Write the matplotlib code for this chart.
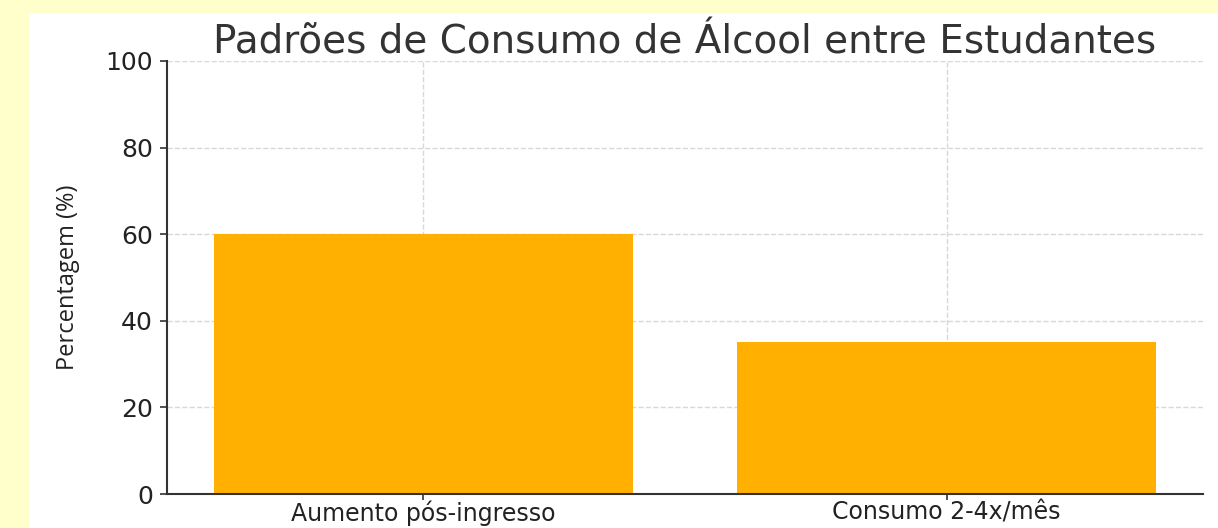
import matplotlib
matplotlib.use("Agg")
import matplotlib.pyplot as plt
from matplotlib.patches import Rectangle

categories = ["Aumento pós-ingresso", "Consumo 2-4x/mês"]
values = [60, 35]
yticks = [0, 20, 40, 60, 80, 100]

plt.rcParams["font.family"] = ["DejaVu Sans"]

W, H = 1218, 528
fig = plt.figure(figsize=(W / 100, H / 100), dpi=100)
fig.patch.set_facecolor("#FFFFCC")
fig.add_artist(Rectangle((29 / W, 0), 1 - 29 / W, 1 - 13 / H,
                         transform=fig.transFigure, facecolor="white",
                         edgecolor="none", zorder=0))

ax = fig.add_axes([167 / W, 1 - 494 / H, (1203 - 167) / W, (494 - 61) / H])
ax.set_facecolor("white")
ax.bar(categories, values, color="#FFB000", width=0.8, zorder=2)
ax.set_ylim(0, 100)
ax.set_yticks(yticks)
ax.grid(True, linestyle="--", color="#d8d8d8", linewidth=1.0, zorder=0)
ax.set_axisbelow(True)
for s in ["top", "right"]:
    ax.spines[s].set_visible(False)
for s in ["left", "bottom"]:
    ax.spines[s].set_color("#333333")
    ax.spines[s].set_linewidth(1.5)
ax.tick_params(axis="both", colors="#333333", length=5, width=1.2)
ax.tick_params(axis="y", labelsize=18, pad=5)
ax.tick_params(axis="x", labelsize=17, pad=1, length=4)
for lbl in ax.get_xticklabels() + ax.get_yticklabels():
    lbl.set_color("#222222")
ax.set_ylabel("Percentagem (%)", family="Open Sans", fontsize=17,
              color="#222222", labelpad=18)
ax.set_title("Padrões de Consumo de Álcool entre Estudantes", fontsize=28,
             color="#333333", pad=2)

fig.savefig("out.png", dpi=100, facecolor=fig.get_facecolor())
